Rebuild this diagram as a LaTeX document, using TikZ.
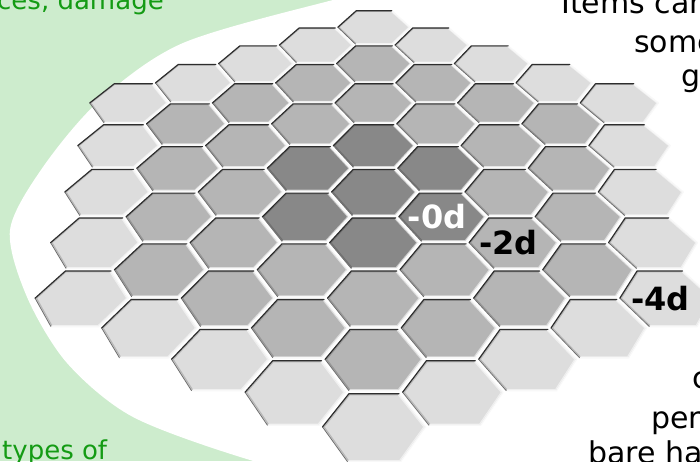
\documentclass[tikz,border=0pt]{standalone}
\usepackage{fontspec}
\setmainfont{DejaVu Sans}
\definecolor{bggreen}{RGB}{205,236,205}
\definecolor{txtgreen}{RGB}{20,155,20}
\definecolor{hexdark}{RGB}{136,136,136}
\definecolor{hexmid}{RGB}{181,181,181}
\definecolor{hexlight}{RGB}{221,221,221}
\definecolor{rimdark}{RGB}{45,45,45}
\definecolor{rimmid}{RGB}{110,110,110}
\definecolor{rimlight}{RGB}{248,248,248}
\newcommand\hexproj[3]{%
  \pgfmathsetmacro\hpZ{39.5+(#2)}%
  \pgfmathsetmacro\hpX{374+17.56*(#1)/\hpZ*100}%
  \pgfmathsetmacro\hpY{-912.4+436.24/\hpZ*100}%
  \coordinate (#3) at (\hpX,\hpY);%
}
\tikzset{
  blacktxt/.style={inner sep=0pt, anchor=base west, text=black, font=\fontsize{30}{36}\selectfont},
  greentxt/.style={inner sep=0pt, anchor=base west, text=txtgreen, font=\fontsize{26}{31}\selectfont},
  hexlbl/.style={inner sep=0pt, anchor=center, font=\fontsize{32}{38}\selectfont\bfseries},
  rimtop/.style={draw=rimdark, line width=1.2pt, line join=round, line cap=round},
  rimside/.style={draw=rimmid, line width=0.8pt},
  rimlow/.style={draw=rimlight, line width=1.3pt, line join=round},
  rimshade/.style={line width=1.1pt, line join=round, opacity=0.55}
}
\begin{document}
\begin{tikzpicture}[x=1pt,y=-1pt]
\useasboundingbox (0,0) rectangle (700,461);
\clip (0,0) rectangle (700,461);
\fill[bggreen] (0,0) rectangle (700,461);
\fill[white] plot[smooth] coordinates {(470,-32)(333,0)(183,43)(100,100)(43,167)(10,230)(27,297)(67,363)(133,417)(250,460)(380,492)} -- (720,500) -- (720,-40) -- cycle;
% hex board
\foreach \q in {-4,...,4}{
  \foreach \r in {-4,...,4}{
    \pgfmathtruncatemacro\hs{-\q-\r}
    \pgfmathtruncatemacro\hring{max(abs(\q),abs(\r),abs(\hs))}
    \ifnum\hring<5
      \pgfmathsetmacro\cX{1.5*\q}
      \pgfmathsetmacro\cY{1.7320508*(\r+0.5*\q)}
      \foreach \k in {0,...,5}{
        \hexproj{\cX+0.955*cos(60*\k)}{\cY+0.955*sin(60*\k)}{v\k}
        \hexproj{\cX+0.925*cos(60*\k)}{\cY+0.925*sin(60*\k)}{w\k}
      }
      \ifnum\hring<2 \def\hcol{hexdark}\else\ifnum\hring<4 \def\hcol{hexmid}\else\def\hcol{hexlight}\fi\fi
      \fill[\hcol] (v0)--(v1)--(v2)--(v3)--(v4)--(v5)--cycle;
      \draw[rimshade, draw=\hcol!70!black] (w4)--(w3)--(w2)--(w1);
      \draw[rimshade, draw=white] (w1)--(w0)--(w5)--(w4);
      \draw[rimlow] (v1)--(v0)--(v5)--(v4);
      \draw[rimside] (v4)--(v3);
      \draw[rimtop] (v3)--(v2)--(v1);
    \fi
  }
}
% labels
\hexproj{1.5}{-0.866}{c0}
\hexproj{3}{-1.732}{c2}
\hexproj{6}{-3.464}{c4}
\node[hexlbl, text=white] (l0) at ([xshift=-5pt]c0) {-0d};
\node[hexlbl, text=black] (l2) at ([xshift=-5pt]c2) {-2d};
\node[hexlbl, text=black] (l4) at ([xshift=-6pt]c4) {-4d};
% texts
\node[greentxt] (t1) at (-3,9) {ces, damage};
\node[greentxt] (t2) at (2,459) {types of};
\node[blacktxt] (t3) at (561,13) {Items can};
\node[blacktxt] (t4) at (634,52) {some};
\node[blacktxt] (t5) at (681,86) {g};
\node[blacktxt] (t6) at (692,388) {c};
\node[blacktxt] (t7) at (651,428) {pers};
\node[blacktxt] (t8) at (588,463) {bare han};
\end{tikzpicture}
\end{document}
